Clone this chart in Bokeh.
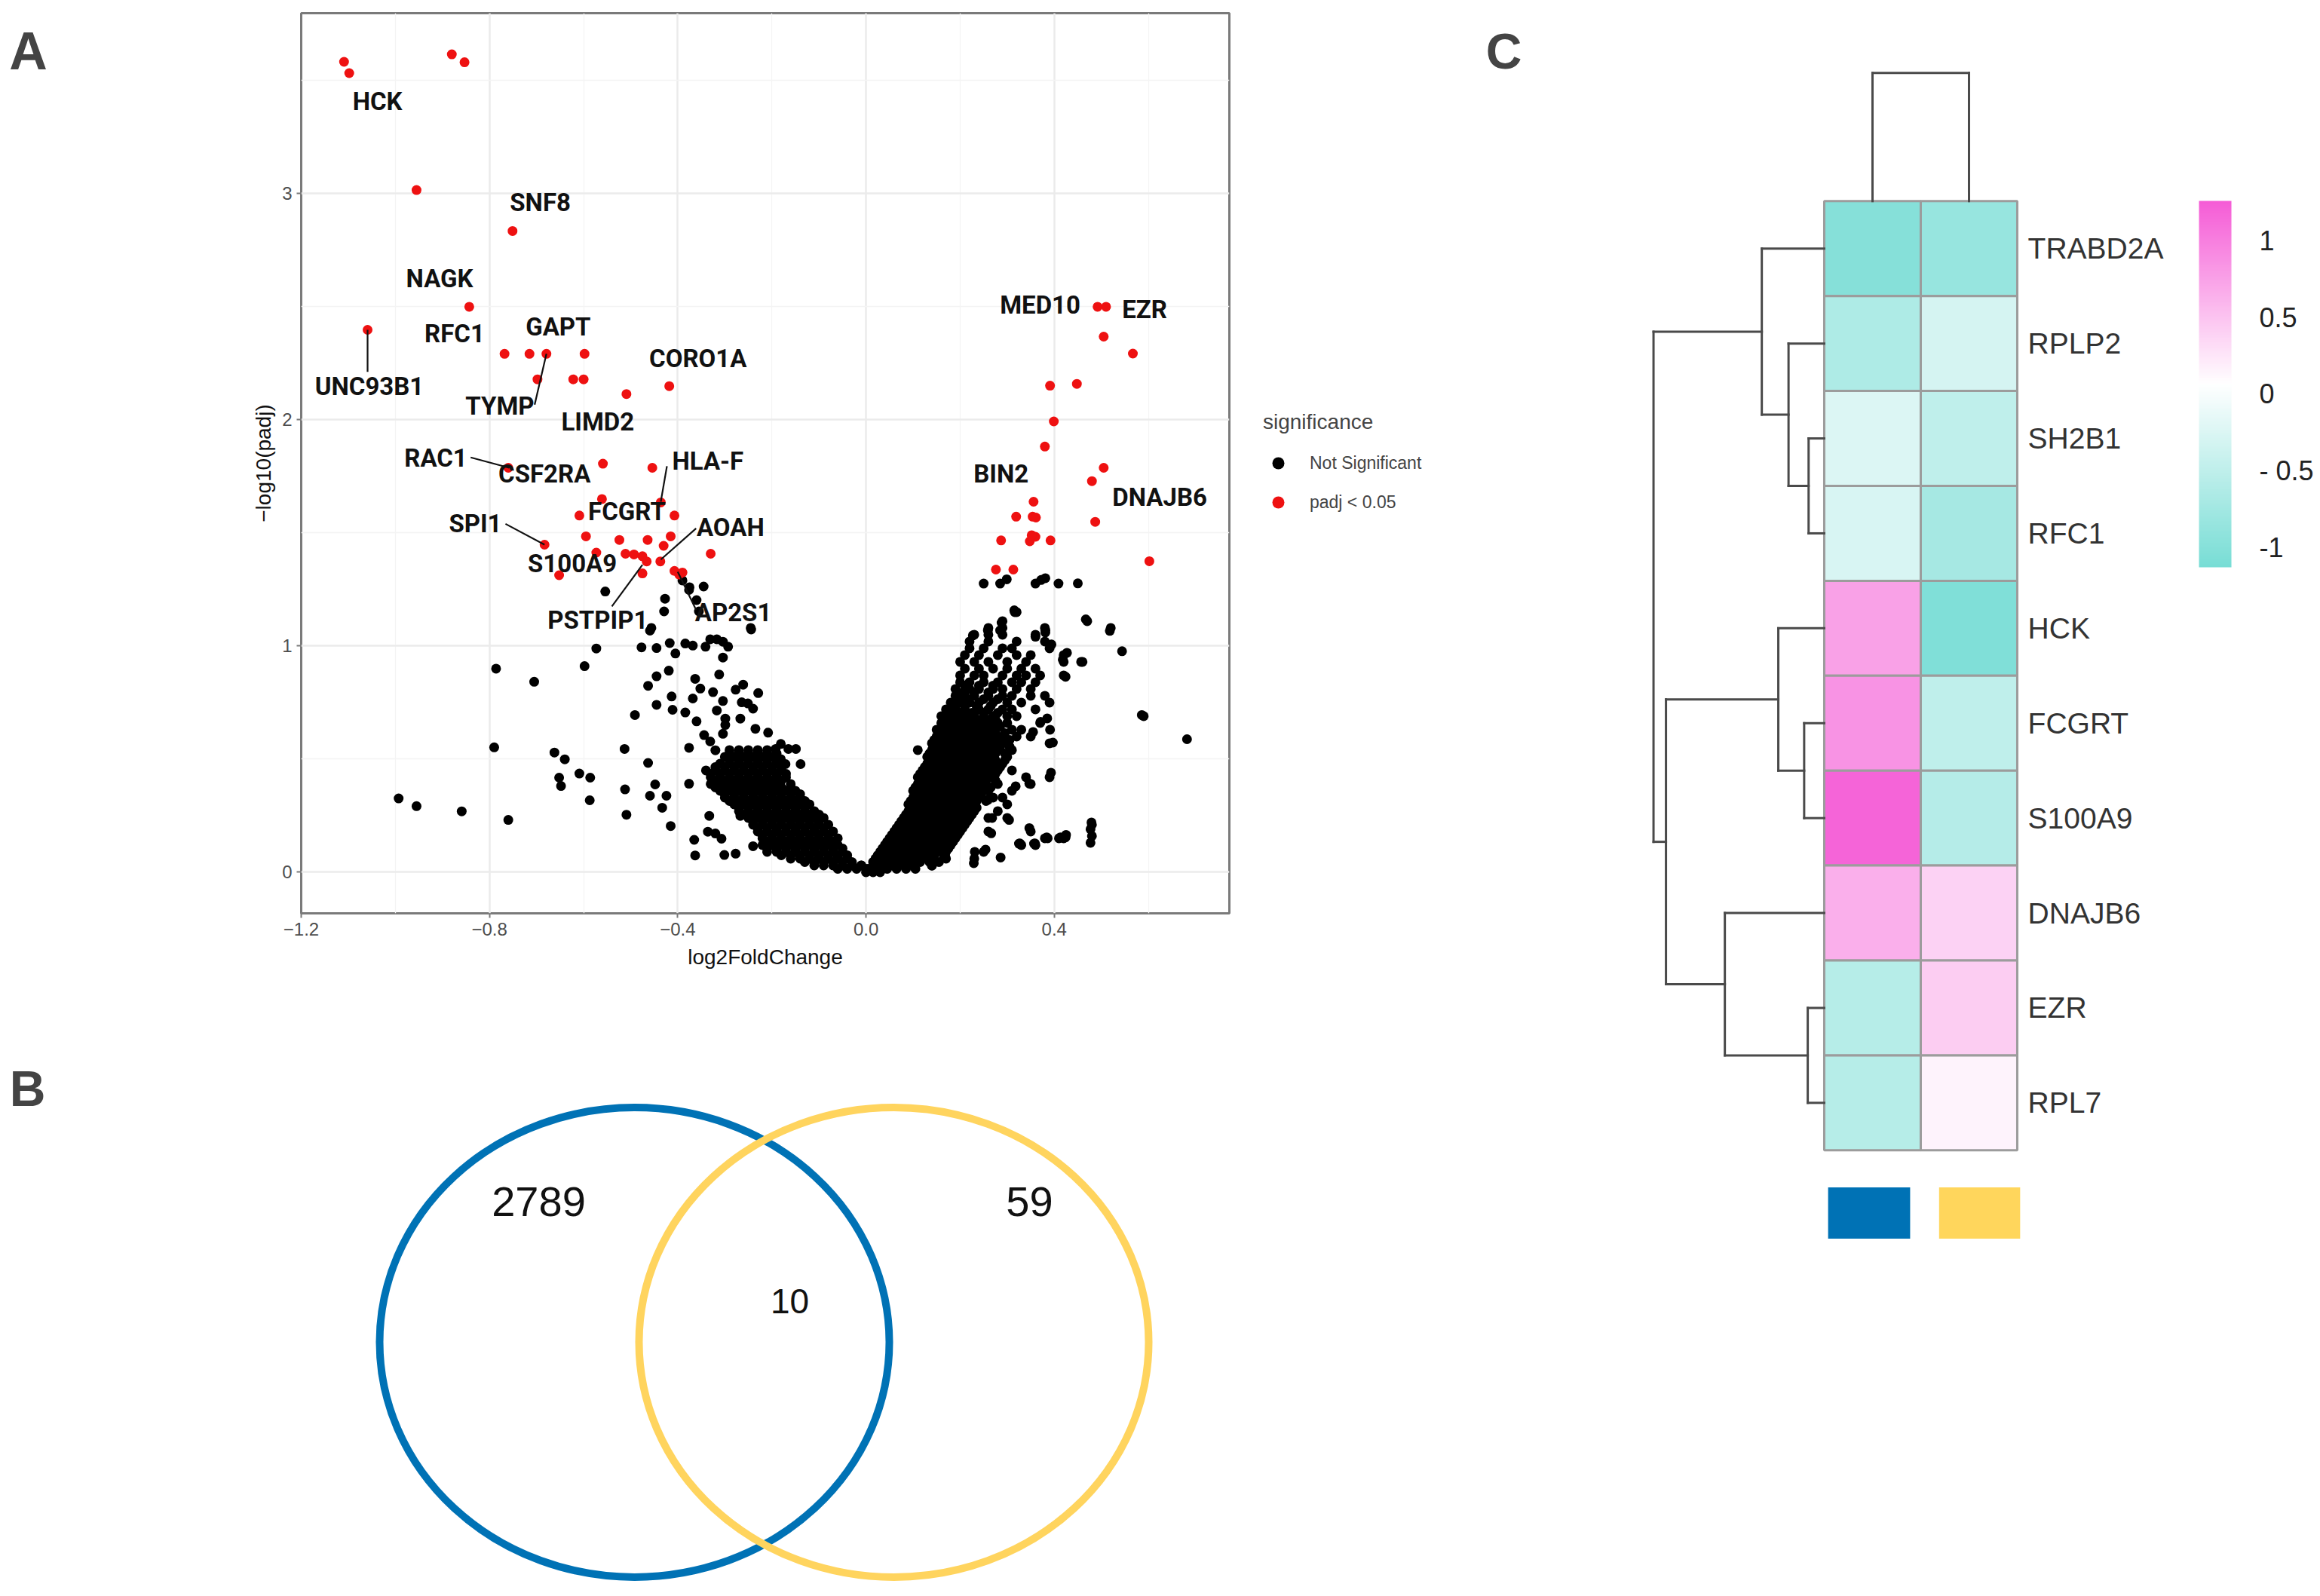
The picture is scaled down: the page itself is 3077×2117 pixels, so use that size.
import numpy as np
from bokeh.plotting import figure
from bokeh.models import (Range1d, FixedTicker, Legend, LegendItem, Label,
                          ColorBar, LinearColorMapper, ColumnDataSource)
from bokeh.layouts import row, column
from bokeh.embed import file_html
from bokeh.resources import INLINE
from bokeh.core.properties import value

# ===================== DATA : volcano (panel A) =====================
sig_x = [-1.109, -1.098, -0.880, -0.853, -0.955, -0.751, -0.843, -1.059,
         -0.768, -0.715, -0.679, -0.598, -0.698, -0.622, -0.600, -0.509, -0.418,
         -0.559, -0.454, -0.760, -0.561, -0.609, -0.436, -0.407, -0.595, -0.524,
         -0.464, -0.415, -0.430, -0.683, -0.573, -0.511, -0.493, -0.475, -0.466,
         -0.437, -0.330, -0.652, -0.475, -0.407, -0.397, -0.390,
         0.492, 0.510, 0.505, 0.567, 0.391, 0.448, 0.399, 0.380, 0.505, 0.480,
         0.356, 0.319, 0.354, 0.361, 0.487, 0.287, 0.348, 0.360, 0.392, 0.352,
         0.602, 0.276, 0.313]
sig_y = [3.583, 3.533, 3.616, 3.581, 3.016, 2.835, 2.500, 2.398,
         2.292, 2.292, 2.292, 2.292, 2.179, 2.179, 2.179, 2.114, 2.149,
         1.806, 1.788, 1.788, 1.650, 1.577, 1.635, 1.577, 1.485, 1.469,
         1.469, 1.485, 1.443, 1.448, 1.413, 1.408, 1.405, 1.397, 1.374,
         1.374, 1.408, 1.313, 1.321, 1.332, 1.316, 1.325,
         2.500, 2.500, 2.368, 2.293, 2.151, 2.159, 1.993, 1.882, 1.788, 1.729,
         1.638, 1.572, 1.572, 1.568, 1.549, 1.467, 1.463, 1.483, 1.467, 1.490,
         1.375, 1.338, 1.338]

# not significant genes, dense right arm, read row by row: (y, [x ...])
ns_right_rows = [
    (0.000, [0.000, 0.015, 0.030]),
    (0.015, [0.005, 0.025, 0.045, 0.065, 0.085, 0.105]),
    (0.030, [-0.010, 0.020, 0.040, 0.060, 0.080, 0.100, 0.140]),
    (0.045, [0.015, 0.035, 0.055, 0.075, 0.095, 0.115, 0.135, 0.155]),
    (0.060, [0.020, 0.040, 0.060, 0.080, 0.100, 0.120, 0.140, 0.170, 0.230]),
    (0.075, [0.025, 0.045, 0.065, 0.085, 0.105, 0.125, 0.145, 0.165]),
    (0.090, [0.030, 0.050, 0.070, 0.090, 0.110, 0.130, 0.150, 0.170, 0.250]),
    (0.105, [0.035, 0.055, 0.075, 0.095, 0.115, 0.135, 0.155, 0.175]),
    (0.120, [0.040, 0.060, 0.080, 0.100, 0.120, 0.140, 0.160, 0.180, 0.330, 0.360]),
    (0.135, [0.045, 0.065, 0.085, 0.105, 0.125, 0.145, 0.165, 0.185]),
    (0.150, [0.050, 0.070, 0.090, 0.110, 0.130, 0.150, 0.170, 0.190, 0.380, 0.410, 0.420]),
    (0.165, [0.055, 0.075, 0.095, 0.115, 0.135, 0.155, 0.175, 0.195]),
    (0.180, [0.060, 0.080, 0.100, 0.120, 0.140, 0.160, 0.180, 0.200, 0.260, 0.350]),
    (0.195, [0.065, 0.085, 0.105, 0.125, 0.145, 0.165, 0.185, 0.205]),
    (0.210, [0.070, 0.090, 0.110, 0.130, 0.150, 0.170, 0.190, 0.210, 0.480]),
    (0.225, [0.075, 0.095, 0.115, 0.135, 0.155, 0.175, 0.195, 0.215]),
    (0.240, [0.080, 0.100, 0.120, 0.140, 0.160, 0.180, 0.200, 0.220, 0.260, 0.300]),
    (0.255, [0.085, 0.105, 0.125, 0.145, 0.165, 0.185, 0.205, 0.225]),
    (0.270, [0.090, 0.110, 0.130, 0.150, 0.170, 0.190, 0.210, 0.230, 0.280]),
    (0.285, [0.095, 0.115, 0.135, 0.155, 0.175, 0.195, 0.215, 0.235]),
    (0.300, [0.090, 0.110, 0.130, 0.150, 0.170, 0.190, 0.210, 0.230, 0.300]),
    (0.315, [0.095, 0.115, 0.135, 0.155, 0.175, 0.195, 0.215, 0.235, 0.255]),
    (0.330, [0.100, 0.120, 0.140, 0.160, 0.180, 0.200, 0.220, 0.240, 0.270, 0.290]),
    (0.345, [0.105, 0.125, 0.145, 0.165, 0.185, 0.205, 0.225, 0.245]),
    (0.360, [0.100, 0.120, 0.140, 0.160, 0.180, 0.200, 0.220, 0.240, 0.260, 0.310]),
    (0.375, [0.105, 0.125, 0.145, 0.165, 0.185, 0.205, 0.225, 0.245, 0.265]),
    (0.390, [0.110, 0.130, 0.150, 0.170, 0.190, 0.210, 0.230, 0.250, 0.280, 0.350]),
    (0.405, [0.115, 0.135, 0.155, 0.175, 0.195, 0.215, 0.235, 0.255, 0.275]),
    (0.420, [0.110, 0.130, 0.150, 0.170, 0.190, 0.210, 0.230, 0.250, 0.270, 0.340, 0.390]),
    (0.435, [0.115, 0.135, 0.155, 0.175, 0.195, 0.215, 0.235, 0.255, 0.275]),
    (0.450, [0.120, 0.140, 0.160, 0.180, 0.200, 0.220, 0.240, 0.260, 0.280, 0.310]),
    (0.465, [0.125, 0.145, 0.165, 0.185, 0.205, 0.225, 0.245, 0.265, 0.285]),
    (0.480, [0.130, 0.150, 0.170, 0.190, 0.210, 0.230, 0.250, 0.270, 0.290]),
    (0.495, [0.135, 0.155, 0.175, 0.195, 0.215, 0.235, 0.255, 0.275, 0.295]),
    (0.510, [0.130, 0.150, 0.170, 0.190, 0.210, 0.230, 0.250, 0.270, 0.300]),
    (0.525, [0.135, 0.155, 0.175, 0.195, 0.215, 0.235, 0.255, 0.275, 0.295]),
    (0.540, [0.110, 0.140, 0.160, 0.180, 0.200, 0.220, 0.240, 0.260, 0.280, 0.310]),
    (0.555, [0.145, 0.165, 0.185, 0.205, 0.225, 0.245, 0.265, 0.285, 0.305]),
    (0.570, [0.140, 0.160, 0.180, 0.200, 0.220, 0.240, 0.260, 0.280, 0.300, 0.390]),
    (0.585, [0.145, 0.165, 0.185, 0.205, 0.225, 0.245, 0.265, 0.285, 0.305]),
    (0.600, [0.150, 0.170, 0.190, 0.210, 0.230, 0.250, 0.270, 0.290, 0.320, 0.350]),
    (0.615, [0.155, 0.175, 0.195, 0.215, 0.235, 0.255, 0.275, 0.295]),
    (0.630, [0.150, 0.170, 0.190, 0.210, 0.230, 0.250, 0.270, 0.310, 0.330]),
    (0.645, [0.165, 0.185, 0.205, 0.225, 0.245, 0.265, 0.285]),
    (0.660, [0.160, 0.180, 0.200, 0.220, 0.240, 0.260, 0.280, 0.300, 0.370]),
    (0.675, [0.175, 0.195, 0.215, 0.235, 0.255, 0.275]),
    (0.690, [0.160, 0.190, 0.210, 0.230, 0.250, 0.270, 0.300, 0.320, 0.590]),
    (0.705, [0.175, 0.200, 0.225, 0.250, 0.280]),
    (0.720, [0.170, 0.190, 0.210, 0.240, 0.260, 0.290, 0.310, 0.360]),
    (0.735, [0.185, 0.210, 0.235, 0.265]),
    (0.750, [0.180, 0.200, 0.220, 0.240, 0.270, 0.300, 0.330, 0.390]),
    (0.765, [0.195, 0.215, 0.250, 0.280]),
    (0.780, [0.190, 0.210, 0.230, 0.260, 0.290, 0.310, 0.350, 0.380]),
    (0.795, [0.205, 0.230, 0.260]),
    (0.810, [0.190, 0.220, 0.240, 0.270, 0.290, 0.320, 0.350]),
    (0.825, [0.210, 0.240, 0.270]),
    (0.840, [0.200, 0.220, 0.250, 0.280, 0.310, 0.330, 0.360]),
    (0.870, [0.200, 0.230, 0.250, 0.290, 0.320, 0.340, 0.370, 0.420]),
    (0.900, [0.210, 0.240, 0.270, 0.300, 0.330, 0.360]),
    (0.930, [0.200, 0.230, 0.260, 0.300, 0.340, 0.420, 0.460]),
    (0.960, [0.210, 0.240, 0.280, 0.320, 0.350, 0.420]),
    (0.990, [0.220, 0.250, 0.290, 0.310, 0.390]),
    (1.020, [0.220, 0.260, 0.320, 0.380]),
    (1.050, [0.230, 0.260, 0.290, 0.360]),
    (1.080, [0.260, 0.290, 0.380, 0.520]),
    (1.110, [0.290, 0.470]),
    (1.150, [0.320]),
]
# not significant genes, dense left arm, read row by row: (y, [x ...])
ns_left_rows = [
    (0.015, [-0.060, -0.040, -0.020, 0.000]),
    (0.030, [-0.110, -0.090, -0.070, -0.050, -0.030, -0.010]),
    (0.045, [-0.130, -0.110, -0.090, -0.070, -0.050, -0.030]),
    (0.060, [-0.160, -0.140, -0.120, -0.100, -0.080, -0.060, -0.040]),
    (0.075, [-0.180, -0.160, -0.140, -0.120, -0.100, -0.080, -0.060, -0.040]),
    (0.090, [-0.210, -0.190, -0.170, -0.150, -0.130, -0.110, -0.090, -0.070, -0.050]),
    (0.105, [-0.210, -0.190, -0.170, -0.150, -0.130, -0.110, -0.090, -0.070, -0.050]),
    (0.120, [-0.220, -0.200, -0.180, -0.160, -0.140, -0.120, -0.100, -0.080, -0.060]),
    (0.135, [-0.210, -0.190, -0.170, -0.150, -0.130, -0.110, -0.090, -0.070]),
    (0.150, [-0.220, -0.200, -0.180, -0.160, -0.140, -0.120, -0.100, -0.080, -0.060]),
    (0.165, [-0.220, -0.200, -0.180, -0.160, -0.140, -0.120, -0.100, -0.080]),
    (0.180, [-0.230, -0.210, -0.190, -0.170, -0.150, -0.130, -0.110, -0.090, -0.070]),
    (0.195, [-0.230, -0.210, -0.190, -0.170, -0.150, -0.130, -0.110, -0.090]),
    (0.210, [-0.240, -0.220, -0.200, -0.180, -0.160, -0.140, -0.120, -0.100, -0.080]),
    (0.225, [-0.240, -0.220, -0.200, -0.180, -0.160, -0.140, -0.120, -0.100]),
    (0.240, [-0.250, -0.230, -0.210, -0.190, -0.170, -0.150, -0.130, -0.110, -0.090]),
    (0.255, [-0.260, -0.240, -0.220, -0.200, -0.180, -0.160, -0.140, -0.120, -0.100]),
    (0.270, [-0.270, -0.250, -0.230, -0.210, -0.190, -0.170, -0.150, -0.130, -0.110]),
    (0.285, [-0.270, -0.250, -0.230, -0.210, -0.190, -0.170, -0.150, -0.130]),
    (0.300, [-0.280, -0.260, -0.240, -0.220, -0.200, -0.180, -0.160, -0.140, -0.120]),
    (0.315, [-0.290, -0.270, -0.250, -0.230, -0.210, -0.190, -0.170, -0.150, -0.130]),
    (0.330, [-0.300, -0.280, -0.260, -0.240, -0.220, -0.200, -0.180, -0.160, -0.140]),
    (0.345, [-0.300, -0.280, -0.260, -0.240, -0.220, -0.200, -0.180, -0.160, -0.140]),
    (0.360, [-0.310, -0.290, -0.270, -0.250, -0.230, -0.210, -0.190, -0.170, -0.150]),
    (0.375, [-0.320, -0.300, -0.280, -0.260, -0.240, -0.220, -0.200, -0.180, -0.160]),
    (0.390, [-0.330, -0.310, -0.290, -0.270, -0.250, -0.230, -0.210, -0.190, -0.160]),
    (0.405, [-0.320, -0.300, -0.280, -0.260, -0.240, -0.220, -0.200, -0.180]),
    (0.420, [-0.330, -0.310, -0.290, -0.270, -0.250, -0.230, -0.210, -0.190, -0.170]),
    (0.435, [-0.330, -0.310, -0.290, -0.270, -0.250, -0.230, -0.210, -0.190, -0.170]),
    (0.450, [-0.340, -0.320, -0.300, -0.280, -0.260, -0.240, -0.220, -0.200, -0.180]),
    (0.465, [-0.320, -0.300, -0.280, -0.260, -0.240, -0.220, -0.200, -0.180]),
    (0.480, [-0.310, -0.290, -0.270, -0.250, -0.230, -0.210, -0.190]),
    (0.495, [-0.290, -0.270, -0.250, -0.230, -0.210, -0.190]),
    (0.510, [-0.300, -0.280, -0.260, -0.240, -0.220, -0.200]),
    (0.525, [-0.290, -0.270, -0.250, -0.230, -0.210, -0.190]),
    (0.540, [-0.290, -0.270, -0.250, -0.230, -0.210]),
]
# not significant genes, scattered points
ns_extra_x = [0.544, 0.586, 0.682, 0.518, 0.467, 0.457, 0.424, 0.418, 0.427, 0.394, 0.381,
              0.397, 0.393, 0.391, 0.385, 0.371, 0.355, 0.347, 0.318, 0.304, 0.268, 0.259,
              0.250, 0.285, 0.299, 0.360, 0.372, 0.381, 0.409, 0.450, 0.316, 0.315, 0.288,
              0.285, 0.259, 0.227, 0.381, 0.360,
              0.347, 0.327, 0.359, 0.386, 0.413, 0.424, 0.425, 0.479, 0.477, 0.480, 0.477,
              0.254, 0.286, 0.231, 0.229, 0.168, 0.140, 0.266, 0.325, 0.357, 0.384,
              -0.477, -0.445, -0.417, -0.405, -0.384, -0.368, -0.341, -0.331, -0.317, -0.304,
              -0.293, -0.304, -0.312, -0.491, -0.456, -0.245, -0.427, -0.429, -0.390, -0.375,
              -0.345, -0.360, -0.355, -0.244, -0.376,
              -0.419, -0.445, -0.463, -0.363, -0.368, -0.352, -0.413, -0.445, -0.411, -0.384,
              -0.360, -0.325, -0.317, -0.304, -0.299, -0.277, -0.261, -0.251, -0.229, -0.264,
              -0.240, -0.267, -0.235, -0.208, -0.344, -0.331, -0.320, -0.304, -0.299, -0.181,
              -0.149, -0.165, -0.192, -0.181, -0.171, -0.139,
              -0.513, -0.463, -0.512, -0.509, -0.448, -0.459, -0.424, -0.433, -0.415, -0.376,
              -0.376, -0.333, -0.365, -0.363, -0.336, -0.320, -0.307, -0.301, -0.277, -0.240,
              -0.267,
              -0.786, -0.705, -0.598, -0.573, -0.790, -0.993, -0.955, -0.859, -0.760, -0.662,
              -0.640, -0.652, -0.648, -0.609, -0.586, -0.587, -0.554, -0.459]
ns_extra_y = [0.977, 0.695, 0.588, 1.067, 1.118, 0.930, 0.864, 0.940, 0.970, 1.007, 1.060,
              0.573, 0.440, 0.630, 0.680, 0.665, 0.620, 0.392, 0.380, 0.231, 0.240, 0.320,
              1.276, 1.276, 1.295, 1.276, 1.292, 1.300, 1.276, 1.277, 1.150, 1.158, 1.103,
              1.069, 1.069, 1.047, 1.069, 1.041,
              0.195, 0.127, 0.127, 0.150, 0.154, 0.154, 0.165, 0.220, 0.190, 0.160, 0.130,
              0.100, 0.065, 0.090, 0.040, 0.073, 0.029, 0.172, 0.126, 0.126, 0.154,
              0.994, 0.991, 1.013, 0.967, 1.011, 1.002, 0.997, 1.030, 1.030, 1.019,
              0.997, 0.949, 0.874, 0.695, 1.080, 1.080, 1.209, 1.153, 1.290, 1.260,
              1.263, 1.203, 1.153, 1.073, 1.248,
              0.891, 0.866, 0.824, 0.855, 0.768, 0.812, 0.777, 0.740, 0.718, 0.706,
              0.667, 0.796, 0.715, 0.757, 0.679, 0.807, 0.829, 0.746, 0.792, 0.751,
              0.723, 0.679, 0.634, 0.617, 0.606, 0.578, 0.539, 0.612, 0.651, 0.567,
              0.545, 0.545, 0.545, 0.500, 0.478, 0.478,
              0.545, 0.483, 0.366, 0.254, 0.388, 0.338, 0.338, 0.285, 0.204, 0.550,
              0.391, 0.249, 0.143, 0.074, 0.179, 0.171, 0.148, 0.076, 0.082, 0.115,
              0.249,
              0.900, 0.842, 0.911, 0.989, 0.552, 0.326, 0.292, 0.269, 0.231, 0.529,
              0.499, 0.418, 0.381, 0.436, 0.418, 0.318, 1.241, 1.068]

lab_names = ["HCK", "SNF8", "NAGK", "RFC1", "GAPT", "CORO1A", "UNC93B1", "TYMP",
             "LIMD2", "RAC1", "CSF2RA", "HLA-F", "FCGRT", "SPI1", "AOAH", "S100A9",
             "PSTPIP1", "AP2S1", "MED10", "EZR", "BIN2", "DNAJB6"]
lab_x = [-1.038, -0.692, -0.906, -0.874, -0.654, -0.357, -1.055, -0.778,
         -0.570, -0.914, -0.683, -0.336, -0.508, -0.830, -0.288, -0.624,
         -0.570, -0.282, 0.370, 0.592, 0.287, 0.624]
lab_y = [3.409, 2.962, 2.625, 2.380, 2.413, 2.270, 2.149, 2.060,
         1.992, 1.831, 1.763, 1.818, 1.596, 1.541, 1.524, 1.364,
         1.114, 1.149, 2.508, 2.488, 1.763, 1.658]
seg_x0 = [-1.059, -0.704, -0.840, -0.423, -0.766, -0.361, -0.540, -0.361]
seg_y0 = [2.398, 2.067, 1.834, 1.795, 1.540, 1.520, 1.175, 1.160]
seg_x1 = [-1.059, -0.679, -0.758, -0.436, -0.683, -0.436, -0.475, -0.400]
seg_y1 = [2.212, 2.292, 1.788, 1.638, 1.448, 1.382, 1.359, 1.328]

x_ticks = [-1.2, -0.8, -0.4, 0.0, 0.4]
x_tick_labels = ["\u22121.2", "\u22120.8", "\u22120.4", "0.0", "0.4"]
x_minor = [-1.0, -0.6, -0.2, 0.2, 0.6]
y_ticks = [0, 1, 2, 3]
y_minor = [0.5, 1.5, 2.5, 3.5]
legend_labels = ["Not Significant", "padj < 0.05"]
point_colors = ["black", "#EE1111"]

# ===================== DATA : Venn (panel B) =====================
venn_counts = [2789, 10, 59]          # only blue set, shared, only yellow set
venn_colors = ["#0072B5", "#FFD45E"]

# ===================== DATA : heatmap (panel C) =====================
row_genes = ["TRABD2A", "RPLP2", "SH2B1", "RFC1", "HCK", "FCGRT", "S100A9",
             "DNAJB6", "EZR", "RPL7"]
col1_vals = [-1.00, -0.65, -0.25, -0.27, 0.75, 0.85, 1.20, 0.65, -0.57, -0.57]
col2_vals = [-0.85, -0.30, -0.50, -0.72, -1.05, -0.50, -0.58, 0.40, 0.43, 0.15]
group_colors = ["#0072B5", "#FFD65C"]
row_merges = [("SH2B1", "RFC1", 0.162), ("RPLP2", "n0", 0.370), ("TRABD2A", "n1", 0.647),
              ("FCGRT", "S100A9", 0.208), ("HCK", "n3", 0.476), ("EZR", "RPL7", 0.171),
              ("DNAJB6", "n5", 1.030), ("n4", "n6", 1.640), ("n2", "n7", 1.769)]
col_merge_height = 1.35
cbar_ticks = [-1, -0.5, 0, 0.5, 1]
cbar_labels = ["-1", "- 0.5", "0", "0.5", "1"]
cbar_low, cbar_high = -1.126, 1.258

# ===================== page geometry =====================
TOTAL_H = 2108
L_W = 96
FW, FH = 1231, 1194          # volcano frame size
BL, BR = 303, 2              # left / right borders of the left column
B_H = 770
LG_W = 334                   # strip holding the volcano legend
H_W = 1105

def blank(width, height, x_range, y_range):
    f = figure(width=width, height=height, x_range=x_range, y_range=y_range,
               output_backend="svg", toolbar_location=None, min_border=0,
               x_axis_type=None, y_axis_type=None)
    f.outline_line_color = None
    f.background_fill_color = "white"
    f.border_fill_color = "white"
    return f

def letter(txt, x, y_from_top, size):
    return Label(x=x, y=TOTAL_H - y_from_top, x_units="screen", y_units="screen", text=txt,
                 text_font="Liberation Sans", text_font_style="bold", text_font_size=size,
                 text_align="center", text_baseline="middle")

# ===================== letters strip =====================
L = blank(L_W, TOTAL_H, Range1d(0, L_W), Range1d(0, TOTAL_H))
L.add_layout(letter("A", 37, 67, "70px"))
L.add_layout(letter("B", 36, 1443, "66px"))

# ===================== volcano =====================
ns_x, ns_y = [], []
for yy, xs in ns_right_rows + ns_left_rows:
    for xx in xs:
        ns_x.append(xx)
        ns_y.append(yy)
ns_x += ns_extra_x
ns_y += ns_extra_y

p = figure(frame_width=FW, frame_height=FH, x_range=Range1d(-1.2, 0.772), y_range=Range1d(-0.182, 3.798),
           output_backend="svg", toolbar_location=None,
           min_border_left=BL, min_border_right=BR, min_border_top=17, min_border_bottom=127)
p.background_fill_color = "white"
p.border_fill_color = "white"
p.outline_line_color = "#7a7a7a"
p.outline_line_width = 3

p.xaxis.ticker = FixedTicker(ticks=x_ticks, minor_ticks=x_minor)
p.yaxis.ticker = FixedTicker(ticks=y_ticks, minor_ticks=y_minor)
p.xaxis.major_label_overrides = {float(t): l for t, l in zip(x_ticks, x_tick_labels)}
for ax in (p.xaxis[0], p.yaxis[0]):
    ax.axis_line_color = None
    ax.major_tick_line_color = "#7a7a7a"
    ax.major_tick_line_width = 2
    ax.major_tick_out = 6
    ax.major_tick_in = 0
    ax.minor_tick_line_color = None
    ax.major_label_text_font = "Liberation Sans"
    ax.major_label_text_font_size = "24px"
    ax.major_label_text_color = "#4D4D4D"
    ax.major_label_standoff = 6
    ax.axis_label_text_font = "Liberation Sans"
    ax.axis_label_text_font_size = "28px"
    ax.axis_label_text_font_style = "normal"
    ax.axis_label_text_color = "#111111"
    ax.axis_label_standoff = 10
p.xaxis.axis_label = "log2FoldChange"
p.yaxis.axis_label = "\u2212log10(padj)"
p.yaxis.axis_label_standoff = 6
for g in (p.xgrid[0], p.ygrid[0]):
    g.grid_line_color = "#EBEBEB"
    g.grid_line_width = 2.5
    g.minor_grid_line_color = "#F4F4F4"
    g.minor_grid_line_width = 1.3

p.scatter(ns_x, ns_y, size=13, fill_color=point_colors[0], line_color=None)
p.scatter(sig_x, sig_y, size=13, fill_color=point_colors[1], line_color=None)
p.segment(x0=seg_x0, y0=seg_y0, x1=seg_x1, y1=seg_y1, line_color="#111111", line_width=2.2)
p.text(x=lab_x, y=lab_y, text=lab_names, text_font=value("Roboto"), text_font_style="bold",
       text_font_size="33px", text_align="center", text_baseline="middle", text_color="#111111")

# ===================== Venn =====================
# frame aligned with the volcano frame; data units = page pixels
b = figure(frame_width=FW, frame_height=B_H,
           x_range=Range1d(L_W + BL, L_W + BL + FW), y_range=Range1d(B_H, 0),
           output_backend="svg", toolbar_location=None,
           min_border_left=BL, min_border_right=BR, min_border_top=0, min_border_bottom=0,
           x_axis_type=None, y_axis_type=None)
b.outline_line_color = None
b.background_fill_color = "white"
b.border_fill_color = "white"
b.ellipse(x=[841, 1185], y=[442, 442], width=[676, 676], height=[623, 623],
          fill_color=None, line_color=venn_colors, line_width=10)
b.text(x=[714, 1365], y=[255, 255], text=[str(venn_counts[0]), str(venn_counts[2])],
       text_font=value("Liberation Sans"), text_font_size="56px",
       text_align="center", text_baseline="middle", text_color="#111111")
b.text(x=[1047], y=[387], text=[str(venn_counts[1])],
       text_font=value("Liberation Sans"), text_font_size="46px",
       text_align="center", text_baseline="middle", text_color="#111111")

# ===================== legend strip (volcano legend) =====================
# the proxy renderers sit outside the visible range; only their legend swatches show
LG = blank(LG_W, TOTAL_H, Range1d(0, 1), Range1d(0, 1))
lg_r = [LG.scatter(x=[-5.0], y=[-5.0], size=11, fill_color=c, line_color=None) for c in point_colors]
legend = Legend(items=[LegendItem(label=lab, renderers=[r]) for lab, r in zip(legend_labels, lg_r)],
                location=(43, TOTAL_H - 692), title="significance",
                title_text_font="Liberation Sans", title_text_font_size="28px",
                title_text_font_style="normal", title_standoff=12,
                label_text_font="Liberation Sans", label_text_font_size="23px",
                glyph_width=40, glyph_height=52, label_height=52, label_standoff=22,
                spacing=0, padding=0, margin=0, border_line_color=None,
                background_fill_alpha=0)
LG.add_layout(legend, "center")

# ===================== heatmap =====================
h = blank(H_W, TOTAL_H, Range1d(-3.539, 5.094), Range1d(14.628, -2.115))

low_c = (0x78, 0xDD, 0xD5)
mid_c = (0xFF, 0xFF, 0xFF)
high_c = (0xF5, 0x5C, 0xD6)
palette = []
for i in range(256):
    t = i / 255.0
    if t < 0.5:
        a, c, f = low_c, mid_c, t / 0.5
    else:
        a, c, f = mid_c, high_c, (t - 0.5) / 0.5
    rgb = [int(round(a[k] + (c[k] - a[k]) * f)) for k in range(3)]
    palette.append("#%02x%02x%02x" % tuple(rgb))
mapper = LinearColorMapper(palette=palette, low=cbar_low, high=cbar_high)

hx, hy, hv = [], [], []
for ci, vals in enumerate([col1_vals, col2_vals]):
    for ri, v in enumerate(vals):
        hx.append(ci + 0.5)
        hy.append(ri + 0.5)
        hv.append(v)
hsrc = ColumnDataSource(dict(x=hx, y=hy, v=hv))
h.rect(x="x", y="y", width=1, height=1, source=hsrc,
       fill_color={"field": "v", "transform": mapper}, line_color="#9C9C9C", line_width=3)

h.text(x=[2.11] * len(row_genes), y=[i + 0.5 for i in range(len(row_genes))], text=row_genes,
       text_font=value("Liberation Sans"), text_font_size="39px", text_align="left",
       text_baseline="middle", text_color="#333333")

pos = {g: (i + 0.5, 0.0) for i, g in enumerate(row_genes)}
dx0, dy0, dx1, dy1 = [], [], [], []
for k, (a, c, ht) in enumerate(row_merges):
    ya, ha = pos[a]
    yc, hc = pos[c]
    dx0 += [-ht, -ha, -hc]
    dy0 += [ya, ya, yc]
    dx1 += [-ht, -ht, -ht]
    dy1 += [yc, ya, yc]
    pos["n%d" % k] = ((ya + yc) / 2.0, ht)
dx0 += [0.5, 1.5, 0.5]
dy0 += [0.0, 0.0, -col_merge_height]
dx1 += [0.5, 1.5, 1.5]
dy1 += [-col_merge_height, -col_merge_height, -col_merge_height]
h.segment(x0=dx0, y0=dy0, x1=dx1, y1=dy1, line_color="#4a4a4a", line_width=3, line_cap="square")

h.quad(left=[0.04, 1.19], right=[0.89, 2.03], top=[10.39, 10.39], bottom=[10.93, 10.93],
       fill_color=group_colors, line_color=None)

cb = ColorBar(color_mapper=mapper, location=(950, 1356), width=43, height=486,
              orientation="vertical", padding=0, margin=0,
              ticker=FixedTicker(ticks=cbar_ticks),
              major_label_overrides={float(t): l for t, l in zip(cbar_ticks, cbar_labels)},
              label_standoff=37, major_label_text_font="Liberation Sans",
              major_label_text_font_size="36px", major_label_text_color="#222222",
              major_tick_line_color=None, minor_tick_line_color=None,
              bar_line_color=None, border_line_color=None, background_fill_alpha=0)
h.add_layout(cb, "center")
h.add_layout(letter("C", 28, 67, "66px"))

layout = row(L, column(p, b, spacing=0), LG, h, spacing=0)
open("out.html", "w").write(file_html(layout, INLINE))
